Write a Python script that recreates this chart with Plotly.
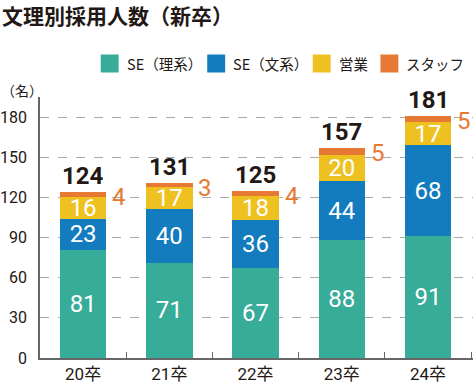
import plotly.graph_objects as go

categories = ["20卒", "21卒", "22卒", "23卒", "24卒"]
se_rikei = [81, 71, 67, 88, 91]
se_bunkei = [23, 40, 36, 44, 68]
eigyo = [16, 17, 18, 20, 17]
staff = [4, 3, 4, 5, 5]
totals = [a + b + c + d for a, b, c, d in zip(se_rikei, se_bunkei, eigyo, staff)]
y_ticks = [0, 30, 60, 90, 120, 150, 180]
series_names = ["SE（理系）", "SE（文系）", "営業", "スタッフ"]

C_TEAL = "#37AC98"
C_BLUE = "#127CBE"
C_YEL = "#EEC121"
C_ORA = "#E67A35"
TXT = "#231815"
NUMF = "Roboto, 'Noto Sans CJK JP', sans-serif"
JPF = "'Noto Sans CJK JP', sans-serif"

W, H = 473, 387
ML, MR, MT, MB = 38, 0, 97, 29
PW, PH = W - ML - MR, H - MT - MB


def px_x(px):
    return (px - ML) / PW


def px_y(py):
    return (H - MB - py) / PH


series = [
    (series_names[0], se_rikei, C_TEAL, True),
    (series_names[1], se_bunkei, C_BLUE, True),
    (series_names[2], eigyo, C_YEL, True),
    (series_names[3], staff, C_ORA, False),
]

fig = go.Figure()
for name, vals, col, show_text in series:
    fig.add_bar(
        x=categories, y=vals, name=name, showlegend=False,
        marker=dict(color=col, line=dict(width=0)),
        text=[str(v) for v in vals] if show_text else None,
        textposition="inside" if show_text else "none",
        insidetextanchor="middle", textangle=0,
        constraintext="none",
        textfont=dict(color="white", size=24, family=NUMF),
        hoverinfo="skip",
    )

# legend: square swatches with labels
legend_left = [99, 206, 312, 380]
for (name, vals, col, _), lx in zip(series, legend_left):
    fig.add_shape(type="rect", xref="paper", yref="paper",
                  x0=px_x(lx), x1=px_x(lx + 18), y0=px_y(72.5), y1=px_y(54.5),
                  fillcolor=col, line=dict(width=0))
    fig.add_annotation(xref="paper", yref="paper", x=px_x(lx + 24), y=px_y(63.5),
                       text=name, showarrow=False, xanchor="left", yanchor="middle",
                       font=dict(size=14.5, color=TXT, family=JPF))

for c, t, s in zip(categories, totals, staff):
    fig.add_annotation(x=c, y=t, text=str(t), showarrow=False, yanchor="bottom",
                       yshift=0, font=dict(size=24, color=TXT, family=NUMF, weight="bold"))
    fig.add_annotation(x=c, y=t, text=str(s), showarrow=False, yanchor="middle",
                       xshift=36, yshift=-5, font=dict(size=24, color=C_ORA, family=NUMF))

fig.add_annotation(xref="paper", yref="paper", x=px_x(20), y=px_y(90), text="（名）",
                   showarrow=False, xanchor="center", yanchor="middle",
                   font=dict(size=14, color=TXT, family=JPF))

fig.update_layout(
    width=W, height=H,
    margin=dict(l=ML, r=MR, t=MT, b=MB),
    paper_bgcolor="white", plot_bgcolor="white",
    barmode="stack", bargap=0.46, showlegend=False,
    title=dict(text="<b>文理別採用人数（新卒）</b>", x=2 / W, xanchor="left",
               y=1 - 17 / H, yanchor="middle",
               font=dict(size=21, color=TXT, family=JPF)),
    xaxis=dict(type="category", showline=True, linecolor="#666", linewidth=1.5,
               ticks="inside", tickson="boundaries", ticklen=6, tickcolor="#666",
               tickfont=dict(size=17, color=TXT, family=NUMF), showgrid=False),
    yaxis=dict(range=[0, 195], tickvals=y_ticks, showline=True, linecolor="#666",
               linewidth=1.5, showgrid=True, gridcolor="#AAAAAA", griddash="dash",
               gridwidth=1, zeroline=False, ticks="outside", ticklen=8,
               tickcolor="rgba(0,0,0,0)",
               tickfont=dict(size=16, color=TXT, family=NUMF)),
)

fig.write_html("out.html", config={"displayModeBar": False},
               post_script="document.body.style.margin='0';")
